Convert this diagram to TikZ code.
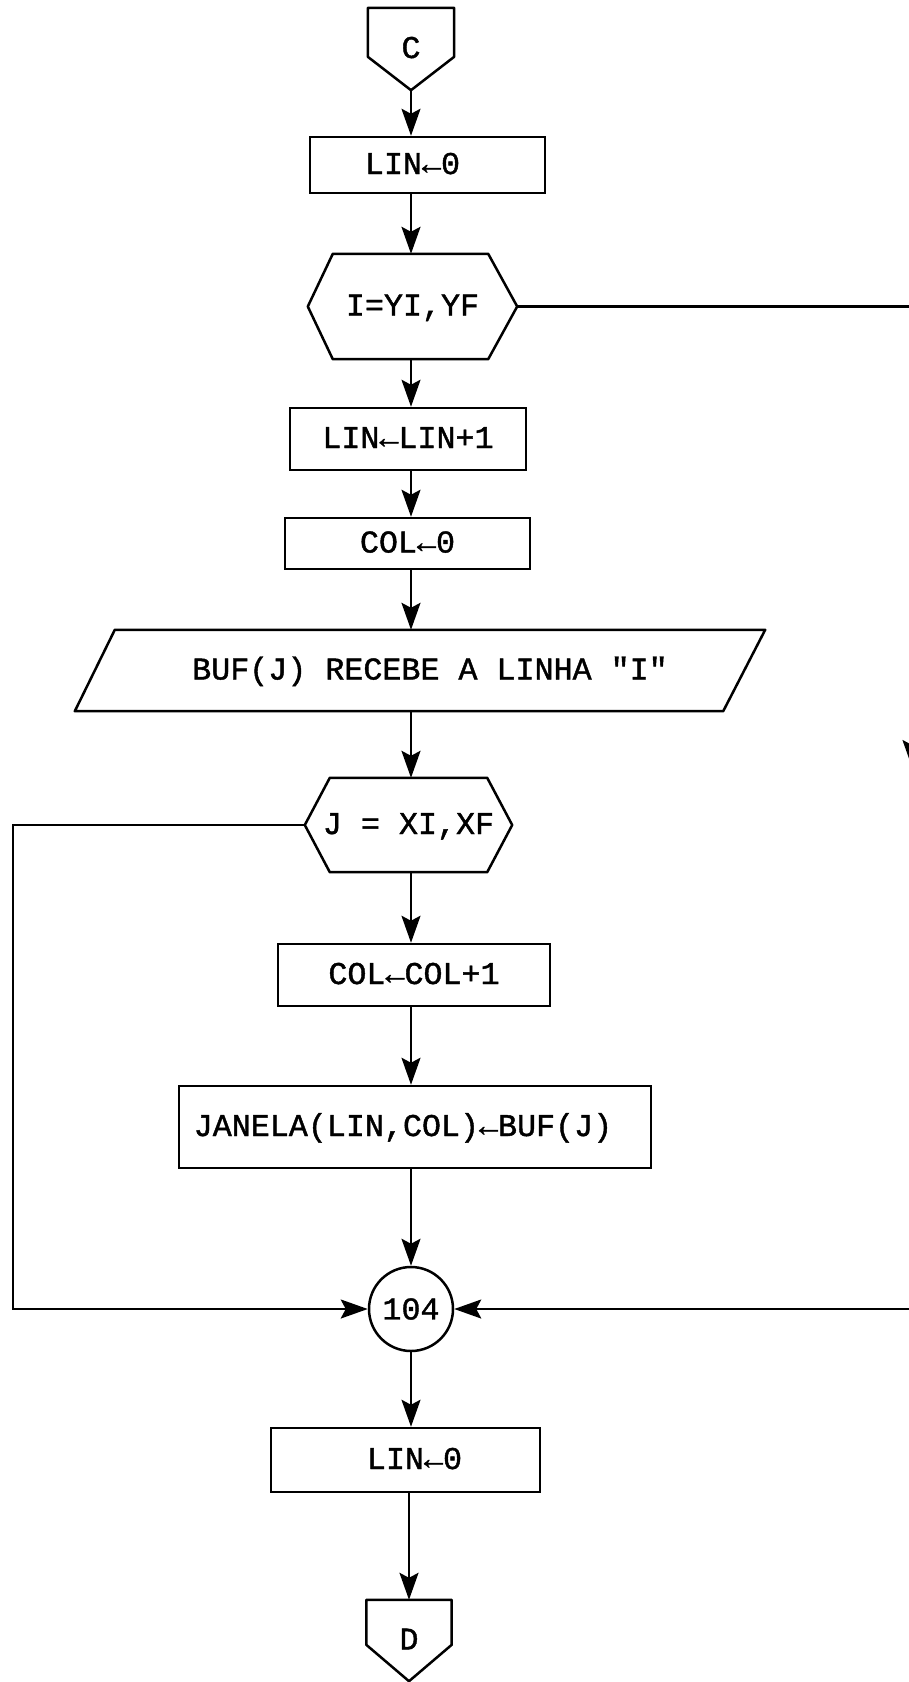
\documentclass[tikz,border=0pt]{standalone}
\usepackage{fontspec}
\setmonofont{Liberation Mono}[FakeBold=1.3]
\usetikzlibrary{arrows.meta, calc}
\newcommand{\flowfont}{\fontsize{31.7pt}{36pt}\ttfamily}

\begin{document}
\begin{tikzpicture}[
  x=1pt, y=-1pt,
  ln/.style={line width=2.5pt, line join=round},
  flow/.style={line width=2.2pt, -{Stealth[length=27pt, width=19pt, inset=5pt]}},
  box/.style={draw, line width=2.5pt, inner sep=0pt, font=\flowfont, text height=18pt, text depth=0pt},
  shp/.style={inner sep=0pt, font=\flowfont, text height=18pt, text depth=0pt},
  cnt/.style={circle, draw, line width=2.5pt, inner sep=0pt, minimum size=84, font=\flowfont}
]

\useasboundingbox (0,0) rectangle (909,1682);
\clip (0,0) rectangle (909,1682);

\node[shp, minimum width=86, minimum height=82] (conC) at (411,49) {C};
\node[box, minimum width=235, minimum height=56] (lin0) at (427.5,165) {LIN←0\hspace*{30pt}};
\node[shp, minimum width=209, minimum height=105] (hexI) at (412.5,306.5) {I=YI,YF};
\node[box, minimum width=236, minimum height=62] (linc) at (408,439) {LIN←LIN+1};
\node[box, minimum width=245, minimum height=51] (col0) at (407.5,543.5) {COL←0};
\node[shp, minimum width=690, minimum height=81] (buf) at (420,670.5) {\hspace*{20pt}BUF(J) RECEBE A LINHA "I"};
\node[shp, minimum width=207, minimum height=94] (hexJ) at (408.5,825) {J = XI,XF};
\node[box, minimum width=272, minimum height=62] (colc) at (414,975) {COL←COL+1};
\node[box, minimum width=472, minimum height=82] (janela) at (415,1127) {JANELA(LIN,COL)←BUF(J)\hspace*{24pt}};
\node[cnt] (n104) at (411,1309) {104};
\node[box, minimum width=269, minimum height=64] (lin0b) at (405.5,1460) {\hspace*{18pt}LIN←0};
\node[shp, minimum width=85, minimum height=81] (conD) at (409,1640.5) {D};

\draw[ln] (conC.north west) -- (conC.north east) -- ($(conC.north east)+(0,49)$) -- (conC.south) -- ($(conC.north west)+(0,49)$) -- cycle;
\draw[ln] (hexI.west) -- ($(hexI.north west)+(25,0)$) -- ($(hexI.north east)+(-29,0)$) -- (hexI.east) -- ($(hexI.south east)+(-29,0)$) -- ($(hexI.south west)+(25,0)$) -- cycle;
\draw[ln] (buf.south west) -- ($(buf.north west)+(40,0)$) -- (buf.north east) -- ($(buf.south east)+(-42,0)$) -- cycle;
\draw[ln] (hexJ.west) -- ($(hexJ.north west)+(25,0)$) -- ($(hexJ.north east)+(-25,0)$) -- (hexJ.east) -- ($(hexJ.south east)+(-25,0)$) -- ($(hexJ.south west)+(25,0)$) -- cycle;
\draw[ln] (conD.north west) -- (conD.north east) -- ($(conD.north east)+(0,45)$) -- (conD.south) -- ($(conD.north west)+(0,45)$) -- cycle;

\coordinate (ax) at (411,0);
\coordinate (lft) at (13,0);
\coordinate (rgt) at (912,767);

\draw[flow] (conC.south) -- (conC.south |- lin0.north);
\draw[flow] (ax |- lin0.south) -- (ax |- hexI.north);
\draw[flow] (ax |- hexI.south) -- (ax |- linc.north);
\draw[flow] (ax |- linc.south) -- (ax |- col0.north);
\draw[flow] (ax |- col0.south) -- (ax |- buf.north);
\draw[flow] (ax |- buf.south) -- (ax |- hexJ.north);
\draw[flow] (ax |- hexJ.south) -- (ax |- colc.north);
\draw[flow] (ax |- colc.south) -- (ax |- janela.north);
\draw[flow] (ax |- janela.south) -- (n104.north);
\draw[flow] (n104.south) -- (n104.south |- lin0b.north);
\draw[flow] (conD.north |- lin0b.south) -- (conD.north);

\draw[flow] (hexJ.west) -- (lft |- hexJ.west) -- (lft |- n104.west) -- (n104.west);
\draw[flow] (hexI.east) -- (hexI.east -| rgt) -- (rgt);
\draw[flow] (rgt) -- (rgt |- n104.east) -- (n104.east);

\end{tikzpicture}
\end{document}
